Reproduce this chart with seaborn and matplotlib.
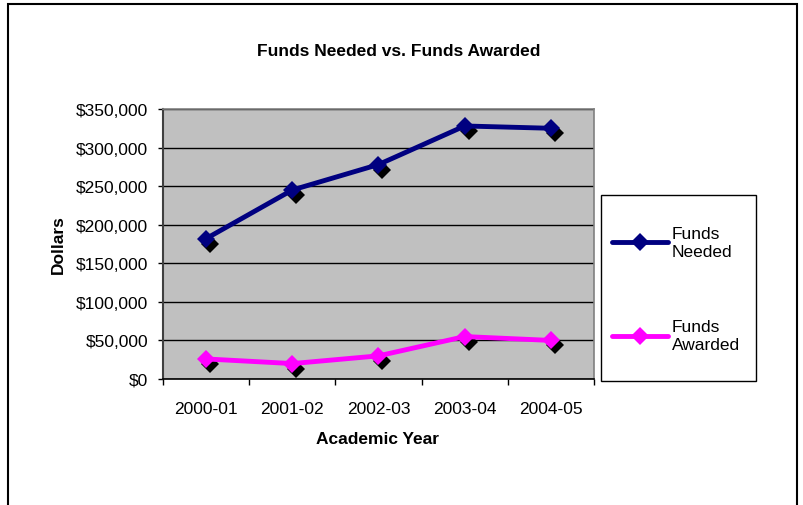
import pandas as pd
import seaborn as sns
import matplotlib.pyplot as plt
import matplotlib.transforms as mtransforms
from matplotlib.patches import Rectangle
from matplotlib.ticker import FuncFormatter, MultipleLocator, FixedLocator

# Данные графика
years = ['2000-01', '2001-02', '2002-03', '2003-04', '2004-05']
funds_needed = [182000, 245000, 278000, 328000, 325000]
funds_awarded = [26000, 20000, 30000, 55000, 50000]
series_names = ['Funds\nNeeded', 'Funds\nAwarded']
colors = ['#000080', '#FF00FF']

df = pd.DataFrame({
    'year': years * 2,
    'value': funds_needed + funds_awarded,
    'series': [series_names[0]] * len(years) + [series_names[1]] * len(years),
})

sns.set_style('white')
plt.rcParams['font.family'] = ['Liberation Sans', 'DejaVu Sans']
plt.rcParams['text.color'] = 'black'
plt.rcParams['xtick.color'] = 'black'
plt.rcParams['ytick.color'] = 'black'
fs = 12.5

fig = plt.figure(figsize=(8.04, 5.06), dpi=100)
ax = fig.add_axes([163 / 804, 1 - 380 / 506, 431 / 804, 270 / 506])
ax.set_facecolor('#C0C0C0')

# тень маркеров
sns.lineplot(data=df, x='year', y='value', hue='series', palette=['black', 'black'],
             marker='D', markersize=9, linestyle='', markeredgewidth=0,
             legend=False, ax=ax, sort=False)
shadow = mtransforms.ScaledTranslation(4 / 100, -5 / 100, fig.dpi_scale_trans)
for line in ax.lines:
    line.set_transform(line.get_transform() + shadow)
    line.set_linestyle('')

sns.lineplot(data=df, x='year', y='value', hue='series', palette=colors,
             marker='D', markersize=9, linewidth=3.5, markeredgewidth=0,
             ax=ax, sort=False)

ax.set_xlim(-0.5, 4.5)
ax.set_ylim(0, 350000)
ax.yaxis.set_major_locator(MultipleLocator(50000))
ax.yaxis.set_major_formatter(FuncFormatter(lambda v, p: '${:,.0f}'.format(v)))
ax.grid(axis='y', color='black', linewidth=1)
ax.set_axisbelow(True)

ax.xaxis.set_minor_locator(FixedLocator([-0.5, 0.5, 1.5, 2.5, 3.5, 4.5]))
ax.tick_params(axis='x', which='major', length=0, pad=16, labelsize=fs, labelcolor='black')
ax.tick_params(axis='x', which='minor', length=4, width=1, color='black', direction='out', bottom=True)
ax.tick_params(axis='y', which='major', length=3.6, width=1, color='black', direction='out', left=True,
               labelsize=fs, pad=7, labelcolor='black')

for side in ['top', 'right']:
    ax.spines[side].set_color('#808080')
    ax.spines[side].set_linewidth(1.2)
ax.spines['left'].set_color('#404040')
ax.spines['left'].set_linewidth(1.5)
ax.spines['bottom'].set_color('black')
ax.spines['bottom'].set_linewidth(1.2)

ax.set_xlabel('')
ax.set_ylabel('')

fig.text(399 / 804, 1 - 52 / 506, 'Funds Needed vs. Funds Awarded', ha='center', va='center',
         fontsize=fs, fontweight='bold', color='black')
fig.text(58 / 804, 1 - 245 / 506, 'Dollars', ha='center', va='center', rotation=90,
         fontsize=fs, fontweight='bold', color='black')
fig.text(378 / 804, 1 - 440 / 506, 'Academic Year', ha='center', va='center',
         fontsize=fs, fontweight='bold', color='black')

# легенда без рамки + рамка отдельно
handles, labels = ax.get_legend_handles_labels()
leg = ax.legend(handles, labels, loc='center left',
                bbox_to_anchor=(612 / 804, 1 - 290 / 506),
                bbox_transform=fig.transFigure, frameon=False,
                fontsize=fs, handlelength=3.2, labelspacing=3.5,
                handletextpad=0.25, borderpad=0, borderaxespad=0)
for t in leg.get_texts():
    t.set_color('black')
fig.patches.append(Rectangle((601 / 804, 1 - 382 / 506), 155 / 804, 186 / 506, transform=fig.transFigure,
                             fill=False, edgecolor='black', linewidth=1))

fig.patches.append(Rectangle((8 / 804, -0.1), 789 / 804, 1.1 - 5 / 506, transform=fig.transFigure,
                             fill=False, edgecolor='black', linewidth=1.5))

fig.savefig('out.png', dpi=100)
